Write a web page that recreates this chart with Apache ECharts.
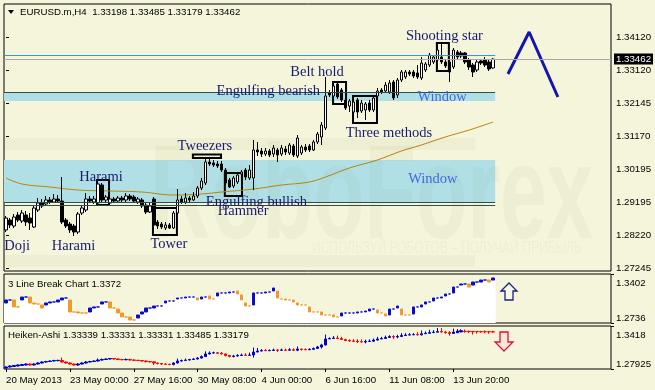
<!DOCTYPE html>
<html><head><meta charset="utf-8">
<script src="https://cdn.jsdelivr.net/npm/echarts@6/dist/echarts.min.js"></script>
<style>html,body{margin:0;padding:0;background:#F5F5DC;}#c{width:655px;height:390px;}</style>
</head><body><div id="c"></div>
<script>
// ---------- DATA ----------
const symbolName = 'EURUSD.m,H4';
const slotCount = 152; // bar slots visible on the time axis
const dateLabels = ['20 May 2013','23 May 00:00','27 May 16:00','30 May 08:00','4 Jun 00:00','6 Jun 16:00','11 Jun 08:00','13 Jun 20:00'];
const dateLabelStep = 16;

const opens = [1.28376,1.28673,1.28495,1.28822,1.28644,1.28822,1.28733,1.28465,1.28971,1.2918,
1.2915,1.29269,1.29209,1.29299,1.29239,1.28673,1.28554,1.28495,1.28316,1.28882,
1.28971,1.29299,1.29209,1.2918,1.29715,1.29269,1.2918,1.29299,1.29239,1.29328,
1.29269,1.29388,1.29358,1.29209,1.29269,1.2912,1.28912,1.29299,1.28614,1.28554,
1.28435,1.28525,1.28435,1.28882,1.29299,1.29209,1.29328,1.29269,1.29388,1.29626,
1.29775,1.304,1.3037,1.3034,1.3034,1.30161,1.29864,1.29686,1.29805,1.30043,
1.30161,1.29924,1.29924,1.30757,1.30727,1.30638,1.30727,1.30638,1.30757,1.30638,
1.30786,1.30667,1.30876,1.30578,1.30667,1.30846,1.30876,1.30757,1.30995,1.31144,
1.31412,1.32453,1.32364,1.32721,1.32542,1.32245,1.32066,1.31888,1.32245,1.31918,
1.31947,1.32156,1.31947,1.32364,1.32542,1.32513,1.32483,1.32781,1.32394,1.3284,
1.3293,1.33078,1.33078,1.33049,1.329,1.33138,1.33287,1.33376,1.33435,1.33525,
1.33376,1.33376,1.33227,1.33673,1.33644,1.33644,1.33435,1.33287,1.33138,1.33406,
1.33435,1.33376,1.33198];
const closes = [1.28733,1.28525,1.28763,1.28673,1.28882,1.28614,1.28584,1.29031,1.2918,1.2909,
1.29269,1.29209,1.29299,1.29239,1.28614,1.28495,1.28376,1.28316,1.28852,1.29031,
1.29299,1.29239,1.29299,1.29745,1.29269,1.29358,1.29299,1.29239,1.29328,1.29269,
1.29388,1.29299,1.29239,1.29299,1.2909,1.28912,1.2909,1.28525,1.28495,1.28465,
1.28525,1.28435,1.28882,1.29269,1.29209,1.29328,1.29269,1.29388,1.29626,1.29834,
1.304,1.3034,1.3031,1.30281,1.30161,1.29775,1.29656,1.29924,1.30013,1.30102,
1.29953,1.30161,1.30757,1.30697,1.30638,1.30727,1.30608,1.30816,1.30608,1.30816,
1.30697,1.30905,1.30608,1.31114,1.30846,1.30757,1.30757,1.30995,1.31233,1.31501,
1.32364,1.32394,1.32662,1.32334,1.32245,1.32007,1.32215,1.32186,1.31888,1.32156,
1.32126,1.31947,1.32305,1.32513,1.32483,1.32691,1.32751,1.32305,1.3284,1.33078,
1.33078,1.33019,1.32959,1.3293,1.33346,1.33316,1.33584,1.33525,1.33733,1.33376,
1.33257,1.33078,1.33733,1.33525,1.33554,1.33376,1.33227,1.33078,1.33376,1.33346,
1.33287,1.33168,1.33462];
const lows = [1.28316,1.28435,1.28435,1.28614,1.28584,1.28495,1.28376,1.28435,1.28912,1.29031,
1.2909,1.2915,1.2918,1.2918,1.28554,1.28435,1.28287,1.28197,1.28257,1.28822,
1.28912,1.2918,1.2915,1.2912,1.29209,1.2918,1.2912,1.2918,1.2918,1.29209,
1.29209,1.29239,1.2918,1.2915,1.29031,1.28852,1.28882,1.28495,1.28406,1.28406,
1.28376,1.28406,1.28406,1.28822,1.2915,1.2915,1.29209,1.29239,1.29328,1.29566,
1.29715,1.30281,1.30251,1.30221,1.30102,1.29715,1.29626,1.29626,1.29745,1.30013,
1.29864,1.29864,1.29566,1.30578,1.30548,1.30578,1.30548,1.30548,1.304,1.30578,
1.30608,1.30608,1.30548,1.30519,1.30608,1.30697,1.30697,1.30727,1.30935,1.30905,
1.31352,1.32334,1.32305,1.32275,1.32186,1.31947,1.31888,1.31828,1.31709,1.31858,
1.31649,1.31888,1.31888,1.32305,1.32424,1.32453,1.32424,1.32245,1.32305,1.32781,
1.3287,1.32959,1.329,1.3287,1.3284,1.33078,1.33227,1.33316,1.33376,1.33316,
1.33197,1.32781,1.33168,1.33465,1.33495,1.33316,1.33138,1.3293,1.33078,1.33287,
1.33227,1.33108,1.33179];
const highs = [1.28793,1.28733,1.28852,1.28912,1.28971,1.28942,1.28882,1.2909,1.29328,1.29299,
1.29388,1.29358,1.29447,1.29417,1.29953,1.28733,1.28614,1.28554,1.28912,1.2912,
1.29477,1.29388,1.29388,1.29805,1.29775,1.29417,1.29388,1.29358,1.29388,1.29388,
1.29477,1.29447,1.29417,1.29358,1.29328,1.2918,1.2918,1.29358,1.28673,1.28614,
1.28614,1.28584,1.28942,1.29596,1.29388,1.29477,1.29388,1.29507,1.29686,1.29924,
1.30519,1.30519,1.30459,1.3043,1.3043,1.30221,1.29924,1.29983,1.30102,1.30161,
1.30221,1.3031,1.31054,1.30995,1.30816,1.30816,1.30786,1.30905,1.30816,1.30905,
1.30876,1.30965,1.30935,1.31203,1.30905,1.30935,1.30935,1.31054,1.31293,1.3159,
1.3293,1.32542,1.32721,1.32781,1.32602,1.32305,1.32275,1.32275,1.32305,1.32245,
1.32186,1.32245,1.32364,1.32602,1.32602,1.32781,1.3284,1.3284,1.329,1.33138,
1.33138,1.33138,1.33138,1.33287,1.33525,1.33376,1.33644,1.33584,1.33882,1.33941,
1.33435,1.33435,1.33793,1.33733,1.33703,1.33673,1.33495,1.33346,1.33435,1.33465,
1.33525,1.33435,1.33485];

// moving average, read at selected bars
const maBars = [0,4,11,18,26,34,42,49,54,62,69,76,80,86,93,99,104,110,116,122];
const maValues = [1.29924,1.29745,1.29656,1.29566,1.29537,1.29507,1.29417,1.29447,1.29507,1.29596,1.29715,1.29805,1.29953,1.30221,1.30459,1.30727,1.30905,1.31144,1.31352,1.3159];

// 3 Line Break blocks (open/close per bar)
const lbOpen = [1.3008,1.3049,1.3049,1.2954,1.3049,1.3089,1.3089,1.3008,1.2994,1.2981,
1.2981,1.3008,1.3022,1.3022,1.3049,1.3076,1.3049,1.2886,1.2886,1.2872,
1.2872,1.2886,1.2940,1.2954,1.2994,1.3022,1.3022,1.2940,1.2926,1.2872,
1.2818,1.2818,1.2777,1.2804,1.2858,1.2886,1.2940,1.2940,1.2967,1.2967,
1.3008,1.3035,1.3035,1.3062,1.3076,1.3076,1.3089,1.3089,1.3076,1.3062,
1.3089,1.3103,1.3062,1.3103,1.3144,1.3144,1.3144,1.3157,1.3171,1.3117,
1.3008,1.2967,1.2981,1.3144,1.3144,1.3144,1.3157,1.3171,1.3171,1.3062,
1.3062,1.3049,1.3049,1.3008,1.2981,1.2981,1.2954,1.2886,1.2886,1.2886,
1.2845,1.2845,1.2845,1.2818,1.2831,1.2872,1.2872,1.2872,1.2872,1.2886,
1.2886,1.2899,1.2926,1.2913,1.2872,1.2858,1.2845,1.2926,1.2940,1.2926,
1.2845,1.2845,1.2858,1.2954,1.2954,1.2994,1.3022,1.3035,1.3076,1.3076,
1.3103,1.3130,1.3144,1.3225,1.3252,1.3266,1.3266,1.3252,1.3293,1.3293,
1.3320,1.3320,1.3320];
const lbClose = [1.3049,1.3049,1.2954,1.2954,1.3089,1.3089,1.3008,1.2994,1.2994,1.2940,
1.3008,1.3022,1.3022,1.3049,1.3076,1.3076,1.2886,1.2886,1.2872,1.2872,
1.2872,1.2940,1.2954,1.2954,1.3022,1.3022,1.2940,1.2940,1.2872,1.2818,
1.2818,1.2777,1.2777,1.2845,1.2886,1.2940,1.2940,1.2967,1.2967,1.2967,
1.3035,1.3035,1.3035,1.3076,1.3076,1.3089,1.3089,1.3089,1.3049,1.3089,
1.3089,1.3062,1.3062,1.3144,1.3144,1.3144,1.3157,1.3157,1.3130,1.3049,
1.2967,1.2967,1.3144,1.3144,1.3144,1.3157,1.3157,1.3212,1.3076,1.3062,
1.3049,1.3049,1.3022,1.2981,1.2981,1.2981,1.2886,1.2886,1.2886,1.2845,
1.2845,1.2845,1.2818,1.2818,1.2872,1.2872,1.2872,1.2872,1.2886,1.2886,
1.2899,1.2926,1.2926,1.2872,1.2872,1.2831,1.2926,1.2926,1.2967,1.2845,
1.2845,1.2845,1.2954,1.2954,1.2981,1.3022,1.3022,1.3076,1.3076,1.3089,
1.3130,1.3130,1.3225,1.3225,1.3266,1.3266,1.3225,1.3293,1.3293,1.3320,
1.3320,1.3293,1.3348];
const lbLastValue = '1.3372';

// Heiken-Ashi
const haOpen = [1.2807,1.2822,1.2829,1.2836,1.2844,1.2851,1.2865,1.2851,1.2865,1.2880,
1.2894,1.2901,1.2909,1.2914,1.2916,1.2894,1.2880,1.2865,1.2851,1.2865,
1.2880,1.2894,1.2901,1.2909,1.2923,1.2931,1.2938,1.2945,1.2938,1.2931,
1.2927,1.2931,1.2923,1.2919,1.2916,1.2909,1.2901,1.2897,1.2880,1.2872,
1.2865,1.2862,1.2858,1.2880,1.2909,1.2916,1.2923,1.2931,1.2938,1.2952,
1.2974,1.3011,1.3025,1.3028,1.3022,1.3011,1.2989,1.2974,1.2982,1.2989,
1.2996,1.2992,1.2996,1.3040,1.3054,1.3062,1.3058,1.3062,1.3069,1.3065,
1.3069,1.3066,1.3072,1.3066,1.3083,1.3076,1.3072,1.3079,1.3091,1.3113,
1.3142,1.3229,1.3236,1.3243,1.3236,1.3222,1.3207,1.3200,1.3196,1.3189,
1.3185,1.3193,1.3197,1.3214,1.3229,1.3236,1.3251,1.3265,1.3258,1.3265,
1.3280,1.3287,1.3290,1.3293,1.3289,1.3305,1.3312,1.3322,1.3328,1.3337,
1.3331,1.3322,1.3310,1.3320,1.3332,1.3341,1.3340,1.3338,1.3336,1.3336,
1.3335,1.3335,1.33339];
const haClose = [1.2822,1.2836,1.2844,1.2851,1.2858,1.2865,1.2851,1.2865,1.2880,1.2894,
1.2901,1.2909,1.2916,1.2918,1.2894,1.2880,1.2865,1.2851,1.2865,1.2880,
1.2894,1.2901,1.2909,1.2923,1.2931,1.2938,1.2945,1.2938,1.2931,1.2927,
1.2931,1.2923,1.2919,1.2916,1.2909,1.2901,1.2897,1.2880,1.2872,1.2865,
1.2862,1.2858,1.2880,1.2909,1.2916,1.2923,1.2931,1.2938,1.2952,1.2974,
1.3011,1.3025,1.3028,1.3022,1.3011,1.2989,1.2974,1.2982,1.2989,1.2996,
1.2992,1.2996,1.3040,1.3054,1.3062,1.3058,1.3062,1.3069,1.3065,1.3069,
1.3066,1.3072,1.3066,1.3083,1.3076,1.3072,1.3079,1.3091,1.3113,1.3142,
1.3229,1.3236,1.3243,1.3236,1.3222,1.3207,1.3200,1.3196,1.3189,1.3185,
1.3193,1.3197,1.3214,1.3229,1.3236,1.3251,1.3265,1.3258,1.3265,1.3280,
1.3287,1.3290,1.3293,1.3289,1.3305,1.3312,1.3322,1.3328,1.3337,1.3331,
1.3322,1.3310,1.3330,1.3345,1.3350,1.3338,1.3336,1.3334,1.3335,1.3334,
1.3333,1.3333,1.33331];
const haLow = [1.2800,1.2815,1.2822,1.2829,1.2836,1.2844,1.2840,1.2844,1.2858,1.2872,
1.2887,1.2894,1.2901,1.2905,1.2887,1.2872,1.2855,1.2840,1.2840,1.2858,
1.2872,1.2887,1.2894,1.2901,1.2914,1.2923,1.2930,1.2930,1.2923,1.2920,
1.2920,1.2916,1.2912,1.2909,1.2901,1.2887,1.2887,1.2850,1.2858,1.2851,
1.2851,1.2845,1.2845,1.2872,1.2901,1.2909,1.2916,1.2923,1.2931,1.2945,
1.2965,1.3005,1.3018,1.3015,1.3005,1.2975,1.2962,1.2962,1.2975,1.2982,
1.2986,1.2986,1.2958,1.3035,1.3050,1.3054,1.3054,1.3055,1.3040,1.3058,
1.3060,1.3060,1.3055,1.3052,1.3061,1.3070,1.3070,1.3073,1.3090,1.3090,
1.3135,1.3229,1.3230,1.3228,1.3219,1.3195,1.3189,1.3183,1.3171,1.3180,
1.3165,1.3189,1.3189,1.3210,1.3229,1.3230,1.3245,1.3230,1.3240,1.3260,
1.3280,1.3285,1.3287,1.3280,1.3280,1.3305,1.3312,1.3320,1.3328,1.3322,
1.3305,1.3278,1.3305,1.3320,1.3328,1.3320,1.3314,1.3293,1.3308,1.3320,
1.3312,1.3305,1.33179];
const haHigh = [1.2830,1.2845,1.2851,1.2860,1.2868,1.2875,1.2872,1.2880,1.2894,1.2905,
1.2912,1.2916,1.2926,1.2926,1.2960,1.2901,1.2887,1.2872,1.2880,1.2890,
1.2909,1.2912,1.2916,1.2945,1.2945,1.2945,1.2952,1.2952,1.2945,1.2940,
1.2945,1.2940,1.2931,1.2926,1.2923,1.2916,1.2909,1.2901,1.2887,1.2880,
1.2872,1.2868,1.2890,1.2945,1.2930,1.2945,1.2940,1.2950,1.2965,1.2990,
1.3050,1.3050,1.3045,1.3040,1.3040,1.3020,1.2995,1.2998,1.3010,1.3016,
1.3022,1.3031,1.3105,1.3099,1.3082,1.3082,1.3079,1.3090,1.3082,1.3090,
1.3088,1.3096,1.3093,1.3120,1.3090,1.3093,1.3093,1.3105,1.3129,1.3159,
1.3293,1.3254,1.3272,1.3278,1.3260,1.3230,1.3225,1.3228,1.3225,1.3224,
1.3219,1.3224,1.3236,1.3260,1.3260,1.3278,1.3284,1.3284,1.3290,1.3314,
1.3314,1.3314,1.3314,1.3329,1.3352,1.3338,1.3364,1.3358,1.3388,1.3388,
1.3343,1.3343,1.3379,1.3373,1.3370,1.3367,1.3349,1.3345,1.3343,1.3346,
1.3352,1.3343,1.33485];
const haHeader = ['1.33339','1.33331','1.33331','1.33485','1.33179'];

// axis tick labels
const mainTicks = [1.27245,1.28220,1.29195,1.30195,1.31170,1.32145,1.33120,1.34120];
const lbTicks = [1.2736,1.3402];
const haTicks = [1.27925,1.3418];

// drawn analysis objects (bar index / price)
const resistanceLevel = 1.33584;
const upperWindow = {line:1.32483, top:1.32453, bottom:1.32215};
const lowerWindow = {top:1.30459, bottom:1.29209, line1:1.29209, line2:1.29120};
const windowEndBar = 122.5;
const patternBoxes = [
  [22.8,1.29864,25.8,1.29120],
  [36.8,1.29031,42.8,1.28227],
  [46.8,1.30623,53.85,1.30519],
  [54.8,1.30072,59.1,1.29388],
  [81.9,1.32781,85.15,1.32126],
  [86.9,1.32364,92.9,1.31561],
  [107.9,1.33941,110.9,1.33108]
];
const notes = [
  ['Doji',2.8,1.27900,0],['Harami',16.9,1.27900,0],['Harami',23.8,1.29953,0],
  ['Tower',40.8,1.27960,0],['Tweezers',49.8,1.30876,0],['Hammer',59.4,1.28942,0],
  ['Engulfing bullish',62.7,1.29209,0],['Engulfing bearish',65.7,1.32513,0],
  ['Belt hold',77.9,1.33063,0],['Three methods',95.9,1.31263,0],
  ['Shooting star',109.8,1.34150,0],['Window',109.2,1.32334,1],['Window',106.9,1.29894,1]
];
const forecastBars = [125.7,131.0,138.2];
const forecastPrices = [1.33019,1.34269,1.32334];

// ---------- CHART ----------
const BG = '#F5F5DC';
const FONT = 'Liberation Sans';
const SERIF = 'Liberation Serif';
const FS = 9.7;
const WM = 'rgba(90,90,30,0.045)';
const cats = Array.from({length: slotCount}, (_, i) => String(i));
const n = closes.length;
const candleData = opens.map((o, i) => [o, closes[i], lows[i], highs[i]]);
const haData = haOpen.map((o, i) => [o, haClose[i], haLow[i], haHigh[i]]);
let dir = 1;
const BLUE3 = '#0A0AD2', ORANGE3 = '#F29A26';
const lbData = lbOpen.map((o, i) => {
  const c = lbClose[i];
  if (c > o) dir = 1; else if (c < o) dir = -1;
  const col = dir > 0 ? BLUE3 : ORANGE3;
  return {value: [o, c, Math.min(o, c), Math.max(o, c)],
    itemStyle: {color: col, color0: col, borderColor: col, borderColor0: col}};
});
const lbArea = lbOpen.map((o, i) => Math.max(o, lbClose[i]));
const last = n - 1;
const bid = closes[last];

const axisText = {color: '#000', fontSize: FS, fontFamily: FONT};
function catAxis(g, showLabels) {
  return {type: 'category', gridIndex: g, data: cats, boundaryGap: true,
    axisLine: {show: false}, splitLine: {show: false},
    axisTick: showLabels ? {show: true, length: 3, alignWithLabel: true,
      interval: (i) => i % dateLabelStep === 0 && i / dateLabelStep < dateLabels.length,
      lineStyle: {color: '#000'}} : {show: false},
    axisLabel: showLabels ? Object.assign({show: true, align: 'left', margin: 6,
      interval: (i) => i % dateLabelStep === 0 && i / dateLabelStep < dateLabels.length,
      formatter: (v, i) => dateLabels[i / dateLabelStep] || ''}, axisText) : {show: false}};
}
function valAxis(g, min, max, ticks, fmt) {
  const ax = {type: 'value', gridIndex: g, position: 'right', min: min, max: max, scale: true,
    splitLine: {show: false}, axisLine: {show: false},
    axisTick: {show: true, length: 3, customValues: ticks, lineStyle: {color: '#000'}},
    axisLabel: Object.assign({show: true, customValues: ticks, formatter: fmt, margin: 5}, axisText)};
  if (g) {
    ax.axisLabel.verticalAlignMinLabel = 'bottom';
    ax.axisLabel.verticalAlignMaxLabel = 'top';
    ax.axisLabel.formatter = v => (v === max ? '{t|' + fmt(v) + '}' : fmt(v));
    ax.axisLabel.rich = {t: {padding: [4, 0, 0, 0], fontSize: FS, fontFamily: FONT, color: '#000'}};
  }
  return ax;
}
const gridBase = {show: true, borderColor: '#000', borderWidth: 1, backgroundColor: BG, containLabel: false};
const titleStyle = {fontSize: FS, fontWeight: 'normal', color: '#000', fontFamily: FONT};

const option = {
  animation: false,
  backgroundColor: BG,
  title: [
    {text: symbolName + '  ' + [opens[last], highs[last], lows[last], closes[last]].map(v => v.toFixed(5)).join(' '),
     left: 20, top: 7, padding: 0, textStyle: titleStyle},
    {text: '3 Line Break Chart ' + lbLastValue, left: 8, top: 279, padding: 0, textStyle: titleStyle},
    {text: 'Heiken-Ashi ' + haHeader.join(' '), left: 8, top: 330, padding: 0, textStyle: titleStyle}
  ],
  grid: [
    Object.assign({left: 4, top: 4, width: 607, height: 267}, gridBase),
    Object.assign({left: 4, top: 274, width: 607, height: 49}, gridBase),
    Object.assign({left: 4, top: 326, width: 607, height: 43}, gridBase)
  ],
  xAxis: [
    catAxis(0, false),
    {type: 'value', gridIndex: 0, min: -0.5, max: slotCount - 0.5, show: false},
    catAxis(1, false),
    catAxis(2, true)
  ],
  yAxis: [
    valAxis(0, 1.27156, 1.35102, mainTicks, v => v.toFixed(5)),
    valAxis(1, 1.2736, 1.3402, lbTicks, v => String(v)),
    valAxis(2, 1.27925, 1.3418, haTicks, v => String(v))
  ],
  graphic: [
    {type: 'polygon', shape: {points: [[8,10],[14,10],[11,14]]}, style: {fill: '#000'}, silent: true},
    {type: 'text', x: 150, y: 268, scaleY: 1.6, z: 100, silent: true,
     style: {text: 'RoboForex', font: 'bold 84px "Liberation Sans"', fill: WM, verticalAlign: 'bottom'}},
    {type: 'text', x: 312, y: 256, scaleY: 1.3, z: 100, silent: true,
     style: {text: 'ИСПОЛЬЗУЙ РОБОТОВ – ПОЛУЧАЙ ПРИБЫЛЬ', font: '12px "Liberation Sans"', fill: WM, verticalAlign: 'bottom'}},
    {type: 'rect', z: 100, silent: true, shape: {x: 5, y: 138, width: 470, height: 12}, style: {fill: WM}},
    {type: 'rect', z: 100, silent: true, shape: {x: 5, y: 255, width: 470, height: 12}, style: {fill: WM}},
    {type: 'polygon', z: 100, silent: true, shape: {points: [[509,283],[517,291],[513,291],[513,300],[505,300],[505,291],[501,291]]},
     style: {fill: 'rgba(255,255,255,0.3)', stroke: '#1C1C8C', lineWidth: 1.3}},
    {type: 'polygon', z: 100, silent: true, shape: {points: [[500,332],[508,332],[508,342],[513,342],[504,351],[495,342],[500,342]]},
     style: {fill: 'rgba(255,200,200,0.3)', stroke: '#DC143C', lineWidth: 1.3}}
  ],
  series: [
    {type: 'line', name: 'MA', xAxisIndex: 1, yAxisIndex: 0, smooth: 0.4, symbol: 'none',
     data: maBars.map((b, i) => [b, maValues[i]]), lineStyle: {color: '#B8860B', width: 1}, z: 2,
     markArea: {silent: true, z: 1, data: [
       [{coord: [-0.5, upperWindow.top], itemStyle: {color: '#B0E0E6'}}, {coord: [windowEndBar, upperWindow.bottom]}],
       [{coord: [-0.5, lowerWindow.top], itemStyle: {color: '#B0E0E6'}}, {coord: [windowEndBar, lowerWindow.bottom]}]
     ].concat(patternBoxes.map(b => [
       {coord: [b[0], b[1]], itemStyle: {color: 'rgba(0,0,0,0)', borderColor: '#000', borderWidth: 2}},
       {coord: [b[2], b[3]]}]))},
     markLine: {silent: true, symbol: ['none','none'], label: {show: false}, animation: false, precision: 5,
       data: [
         [{coord: [-0.5, resistanceLevel], lineStyle: {color: '#3399CC', width: 1, type: 'solid'}}, {coord: [windowEndBar, resistanceLevel]}],
         [{coord: [-0.5, upperWindow.line], lineStyle: {color: '#2F4F4F', width: 1, type: 'solid'}}, {coord: [windowEndBar, upperWindow.line]}],
         [{coord: [-0.5, lowerWindow.line1], lineStyle: {color: '#2F4F4F', width: 1, type: 'solid'}}, {coord: [windowEndBar, lowerWindow.line1]}],
         [{coord: [-0.5, lowerWindow.line2], lineStyle: {color: '#2F4F4F', width: 1, type: 'solid'}}, {coord: [windowEndBar, lowerWindow.line2]}]
       ]},
     markPoint: {silent: true, symbol: 'rect', symbolSize: 1, itemStyle: {color: 'rgba(0,0,0,0)'},
       data: notes.map(t => ({coord: [t[1], t[2]], value: t[0],
         label: {show: true, position: 'inside', formatter: t[0], fontFamily: SERIF, fontSize: 14.5,
           color: t[3] ? '#4169E1' : '#191970'}}))}
    },
    {type: 'candlestick', name: 'EURUSD', xAxisIndex: 0, yAxisIndex: 0, data: candleData, barWidth: 3, z: 3,
     itemStyle: {color: '#FFFFFF', color0: '#000000', borderColor: '#000000', borderColor0: '#000000', borderWidth: 1}},
    {type: 'line', name: 'Forecast', xAxisIndex: 1, yAxisIndex: 0, symbol: 'none', z: 4,
     data: forecastBars.map((b, i) => [b, forecastPrices[i]]), lineStyle: {color: '#1414B4', width: 3},
     markLine: {silent: true, symbol: ['none','none'], animation: false, precision: 5,
       lineStyle: {color: '#A8A8A8', width: 1, type: 'solid'},
       label: {show: true, position: 'end', formatter: bid.toFixed(5), color: '#FFFFFF', backgroundColor: '#000000',
         padding: [1, 2, 0, 2], fontSize: FS, fontFamily: FONT, distance: 3},
       data: [{yAxis: bid}]}},
    {type: 'bar', name: 'LB area', xAxisIndex: 2, yAxisIndex: 1, data: lbArea, barWidth: 5,
     itemStyle: {color: '#FFFFFF'}, z: 1, silent: true},
    {type: 'candlestick', name: '3LB', xAxisIndex: 2, yAxisIndex: 1, data: lbData, barWidth: 3, z: 3},
    {type: 'candlestick', name: 'HA', xAxisIndex: 3, yAxisIndex: 2, data: haData, barWidth: 3, z: 3,
     itemStyle: {color: '#0000CD', color0: '#FF0000', borderColor: '#0000CD', borderColor0: '#FF0000', borderWidth: 1}}
  ]
};
const chart = echarts.init(document.getElementById('c'), null, {renderer: 'canvas'});
chart.setOption(option);
</script></body></html>
